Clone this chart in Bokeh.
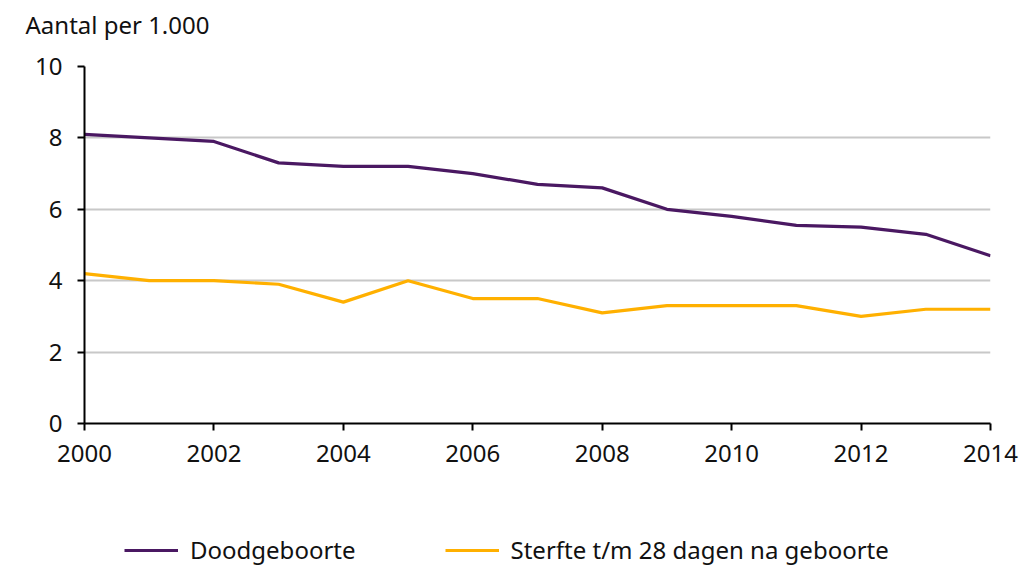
from bokeh.plotting import figure
from bokeh.layouts import column
from bokeh.models import Legend, LegendItem, Title, FixedTicker, Range1d
from bokeh.embed import file_html
from bokeh.resources import INLINE

years = list(range(2000, 2015))
doodgeboorte = [8.1, 8.0, 7.9, 7.3, 7.2, 7.2, 7.0, 6.7, 6.6, 6.0, 5.8, 5.55, 5.5, 5.3, 4.7]
sterfte = [4.2, 4.0, 4.0, 3.9, 3.4, 4.0, 3.5, 3.5, 3.1, 3.3, 3.3, 3.3, 3.0, 3.2, 3.2]
x_ticks = list(range(2000, 2015, 2))
y_ticks = [0, 2, 4, 6, 8, 10]
series_names = ["Doodgeboorte", "Sterfte t/m 28 dagen na geboorte"]
y_title = "Aantal per 1.000"

FONT = "Noto Sans"
PURPLE = "#4a1862"
YELLOW = "#ffb000"
W = 1033

# heading strip above the chart
t = figure(width=W, height=46, output_backend="svg", toolbar_location=None,
           x_range=Range1d(0, 1), y_range=Range1d(0, 1),
           x_axis_location=None, y_axis_location=None,
           min_border_left=84, min_border_right=43, min_border_top=40, min_border_bottom=0)
t.outline_line_color = None
t.grid.grid_line_color = None
t.title = Title(text=y_title, align="left", offset=-59, standoff=0,
                text_font=FONT, text_font_size="24px", text_font_style="normal",
                text_color="#111111")

# main chart
p = figure(width=W, height=434, output_backend="svg", toolbar_location=None,
           x_range=Range1d(2000, 2014), y_range=Range1d(0, 10),
           min_border_left=84, min_border_right=43, min_border_top=20, min_border_bottom=57)
p.outline_line_color = None

xb = p.below[0]
yl = p.left[0]

p.line(years, doodgeboorte, line_color=PURPLE, line_width=3.2)
p.line(years, sterfte, line_color=YELLOW, line_width=3.2)

p.xgrid.grid_line_color = None
p.ygrid.grid_line_color = "#c8c8c8"
p.ygrid.grid_line_width = 2
p.ygrid.ticker = FixedTicker(ticks=y_ticks)

for ax in (xb, yl):
    ax.axis_line_color = "black"
    ax.axis_line_width = 2
    ax.major_tick_line_color = "black"
    ax.major_tick_line_width = 2
    ax.major_tick_out = 7
    ax.major_tick_in = 0
    ax.minor_tick_line_color = None
    ax.major_label_text_font = FONT
    ax.major_label_text_font_size = "24px"
    ax.major_label_text_color = "#111111"

xb.ticker = FixedTicker(ticks=x_ticks)
yl.ticker = FixedTicker(ticks=y_ticks)
xb.major_label_standoff = 14
yl.major_label_standoff = 15

# legend strip below the chart (series drawn off-range, only their legend glyphs show)
q = figure(width=W, height=86, output_backend="svg", toolbar_location=None,
           x_range=Range1d(0, 1), y_range=Range1d(0, 1),
           x_axis_location=None, y_axis_location=None,
           min_border_left=84, min_border_right=43, min_border_top=0, min_border_bottom=0)
q.outline_line_color = None
q.grid.grid_line_color = None
g1 = q.line(years, doodgeboorte, line_color=PURPLE, line_width=3.2)
g2 = q.line(years, sterfte, line_color=YELLOW, line_width=3.2)
legend = Legend(items=[LegendItem(label=series_names[0], renderers=[g1]),
                       LegendItem(label=series_names[1], renderers=[g2])],
                orientation="horizontal", location=(40, 0),
                label_text_font=FONT, label_text_font_size="24px", label_text_color="#111111",
                glyph_width=54, glyph_height=20, label_standoff=12, spacing=89,
                padding=0, margin=0, border_line_color=None, background_fill_alpha=0)
q.add_layout(legend, "center")

layout = column(t, p, q, spacing=0)
open("out.html", "w").write(file_html(layout, INLINE))
